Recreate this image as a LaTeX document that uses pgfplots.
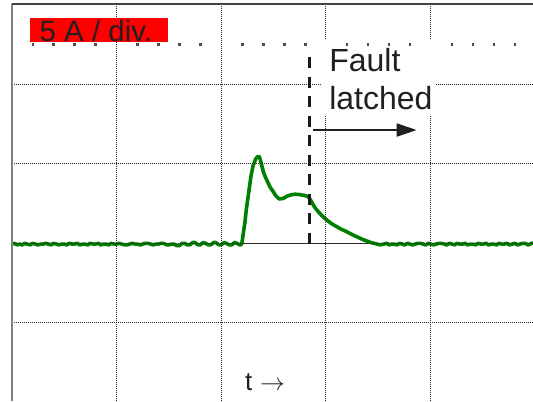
\documentclass[border=0pt]{standalone}
\usepackage{pgfplots}
\pgfplotsset{compat=1.18}
\usepackage{fontspec}
\setmainfont{Liberation Sans}
\usetikzlibrary{arrows.meta}
\definecolor{trace}{RGB}{0,128,0}
\definecolor{txt}{RGB}{35,31,32}
\tikzset{gridl/.style={line width=0.9bp, color=black!85, dash pattern=on 1bp off 1bp}}
\begin{document}
\begin{tikzpicture}
\begin{axis}[hide axis, x=104.8bp, y=79.6bp, xmin=0, xmax=4.976, ymin=-1.981, ymax=3, clip=false]
\coordinate (bl) at (axis cs:0,-1.981);
\coordinate (tr) at (axis cs:4.976,3);
% zero reference line
\draw[line width=1.2bp, black!80] (axis cs:2.19,0) -- (axis cs:3.6,0);
% trace
\addplot[trace, line width=3.6bp, line join=round] coordinates {
(0.00,-0.01) (0.03,0.00) (0.05,-0.02) (0.08,-0.01) (0.10,-0.02) (0.13,0.00) (0.15,-0.01) (0.18,-0.02)
(0.20,0.00) (0.23,-0.01) (0.25,-0.02) (0.28,-0.01) (0.30,-0.01) (0.33,0.00) (0.35,-0.01) (0.38,-0.02)
(0.40,0.00) (0.43,-0.01) (0.45,-0.02) (0.48,-0.01) (0.50,-0.01) (0.53,-0.02) (0.55,0.00) (0.58,-0.01)
(0.60,-0.01) (0.63,0.00) (0.65,-0.02) (0.68,-0.01) (0.70,-0.01) (0.73,-0.02) (0.75,0.00) (0.78,-0.01)
(0.80,-0.01) (0.83,0.00) (0.85,-0.02) (0.88,-0.01) (0.90,-0.01) (0.93,-0.02) (0.95,0.00) (0.98,-0.01)
(1.00,-0.01) (1.03,0.00) (1.05,-0.01) (1.08,-0.02) (1.10,-0.02) (1.13,-0.01) (1.15,0.00) (1.18,-0.01)
(1.20,-0.01) (1.23,-0.02) (1.25,-0.01) (1.28,0.00) (1.30,0.00) (1.33,-0.01) (1.35,-0.02) (1.38,-0.01)
(1.40,-0.01) (1.43,0.00) (1.45,0.00) (1.48,-0.02) (1.50,-0.02) (1.53,-0.01) (1.55,-0.01) (1.58,-0.03)
(1.60,-0.03) (1.63,0.00) (1.65,0.00) (1.68,-0.02) (1.70,-0.02) (1.73,0.01) (1.75,0.01) (1.78,-0.02)
(1.80,-0.02) (1.83,0.01) (1.85,0.00) (1.88,-0.02) (1.90,-0.02) (1.93,0.01) (1.95,0.01) (1.98,-0.02)
(2.00,-0.02) (2.03,0.01) (2.05,0.00) (2.08,-0.02) (2.10,-0.02) (2.13,0.01) (2.15,0.00) (2.18,-0.02)
(2.197,-0.01)
(2.228,0.271) (2.24,0.42) (2.260,0.607) (2.282,0.817) (2.29,0.88) (2.307,0.984) (2.333,1.068)
(2.35,1.09) (2.365,1.088) (2.38,1.02) (2.403,0.899) (2.42,0.84) (2.450,0.754) (2.47,0.70)
(2.498,0.648) (2.52,0.60) (2.555,0.557) (2.575,0.56) (2.594,0.565) (2.62,0.585) (2.641,0.598)
(2.67,0.61) (2.705,0.616) (2.735,0.615) (2.769,0.607) (2.80,0.60) (2.832,0.585) (2.855,0.54)
(2.880,0.481) (2.90,0.44) (2.927,0.397) (2.96,0.35) (3.008,0.293) (3.05,0.25) (3.103,0.209)
(3.15,0.175) (3.198,0.146) (3.25,0.11) (3.294,0.083) (3.34,0.055) (3.389,0.029) (3.43,0.01)
(3.485,-0.009)
(3.52,-0.02) (3.55,-0.01) (3.58,0.00) (3.60,-0.02) (3.63,-0.01) (3.65,-0.01) (3.68,-0.02) (3.70,0.00)
(3.73,-0.01) (3.75,-0.02) (3.78,0.00) (3.80,-0.01) (3.83,-0.02) (3.85,-0.01) (3.88,0.00) (3.90,0.00)
(3.93,-0.01) (3.95,-0.02) (3.98,0.00) (4.00,-0.01) (4.03,-0.02) (4.05,-0.01) (4.08,0.00) (4.10,0.00)
(4.13,-0.01) (4.15,-0.02) (4.18,0.00) (4.20,-0.01) (4.23,-0.02) (4.25,0.00) (4.28,-0.01) (4.30,-0.01)
(4.33,0.00) (4.35,-0.02) (4.38,-0.01) (4.40,-0.01) (4.43,-0.02) (4.45,0.00) (4.48,-0.01) (4.50,-0.01)
(4.53,0.00) (4.55,-0.02) (4.58,-0.01) (4.60,-0.01) (4.63,-0.02) (4.65,0.00) (4.68,-0.01) (4.70,-0.01)
(4.73,0.00) (4.75,-0.02) (4.78,-0.01) (4.80,0.00) (4.83,-0.02) (4.85,-0.01) (4.88,0.00) (4.90,0.00)
(4.93,-0.02) (4.95,-0.01) (4.976,0.01)
};
% grid
\pgfplotsinvokeforeach{1,2,3,4}{\draw[gridl] (axis cs:#1,-1.981) -- (axis cs:#1,3);}
\pgfplotsinvokeforeach{-1,0,1,2}{\draw[gridl] (axis cs:0,#1) -- (axis cs:4.976,#1);}
% minor ticks row
\addplot[only marks, mark=square*, mark size=0.75bp, black!70] coordinates {
(0.2,2.5) (0.4,2.5) (0.6,2.5) (0.8,2.5) (1.2,2.5) (1.4,2.5) (1.6,2.5) (1.8,2.5)
(2.2,2.5) (2.4,2.5) (2.6,2.5) (2.8,2.5) (3.2,2.5) (3.4,2.5) (3.6,2.5) (3.8,2.5)
(4.2,2.5) (4.4,2.5) (4.6,2.5) (4.8,2.5)
};
% borders
\draw[line width=2bp, black!50] (axis cs:0,-1.981) -- (axis cs:0,3);
\draw[line width=2bp, black!75] (axis cs:0,3) -- (axis cs:4.976,3);
% dashed fault line
\draw[line width=2.8bp, black!90, dash pattern=on 11bp off 8.5bp] (axis cs:2.845,2.34) -- (axis cs:2.845,-0.046);
% white box and text
\fill[white] (axis cs:2.953,2.554) rectangle (axis cs:4.041,1.612);
\node[anchor=base west, inner sep=0, txt, font=\fontsize{32bp}{38bp}\selectfont] at (axis cs:3.030,2.156) {Fault};
\node[anchor=base west, inner sep=0, txt, font=\fontsize{32bp}{38bp}\selectfont] at (axis cs:3.030,1.675) {latched};
\draw[line width=2bp, txt, -{Triangle[length=20bp,width=13bp]}] (axis cs:2.874,1.423) -- (axis cs:3.866,1.423);
% red label
\fill[red] (axis cs:0.1765,2.525) rectangle (axis cs:1.490,2.827);
\node[anchor=base west, inner sep=0, txt, font=\fontsize{29.5bp}{35bp}\selectfont] at (axis cs:0.266,2.533) {5 A / div.};
% t label
\node[anchor=base west, inner sep=0, txt, font=\fontsize{26bp}{30bp}\selectfont] at (axis cs:2.228,-1.843) {t\hspace{0.3em}$\rightarrow$};
\end{axis}
\pgfresetboundingbox
\path[use as bounding box] ([xshift=-11.5bp]bl) rectangle ([yshift=4.5bp]tr);
\end{tikzpicture}
\end{document}
